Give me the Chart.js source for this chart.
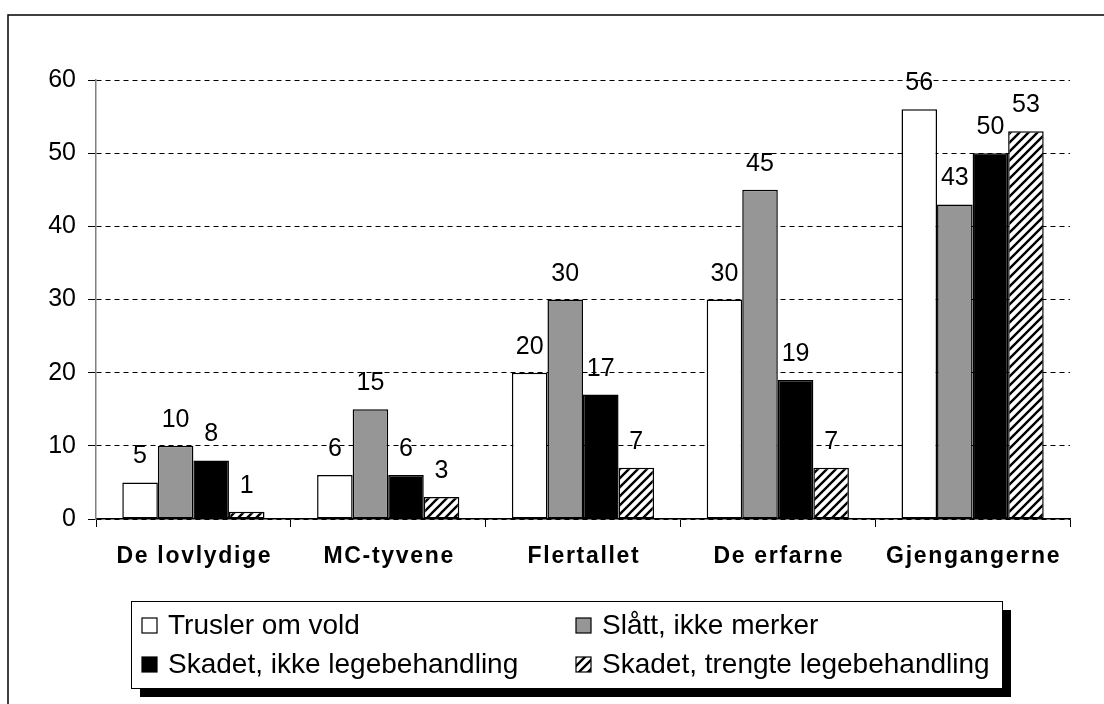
<!DOCTYPE html>
<html>
<head>
<meta charset="utf-8">
<script src="https://cdn.jsdelivr.net/npm/chart.js@4/dist/chart.umd.min.js"></script>
<style>
  html, body { margin: 0; padding: 0; background: #fff; }
  #wrap { width: 1104px; height: 704px; }
</style>
</head>
<body>
<div id="wrap"><canvas id="chart" width="1104" height="704"></canvas></div>
<script>
// Data
const categories = ['De lovlydige', 'MC-tyvene', 'Flertallet', 'De erfarne', 'Gjengangerne'];
const seriesNames = ['Trusler om vold', 'Slått, ikke merker', 'Skadet, ikke legebehandling', 'Skadet, trengte legebehandling'];
const trusler = [5, 6, 20, 30, 56];
const slatt = [10, 15, 30, 45, 43];
const skadet = [8, 6, 17, 19, 50];
const legebehandling = [1, 3, 7, 7, 53];
const yMax = 60;
const yStep = 10;

const FONT = 'Arial, "Liberation Sans", sans-serif';

// diagonal hatch for the last series
function makeHatch() {
  const c = document.createElement('canvas');
  c.width = 9; c.height = 9;
  const g = c.getContext('2d');
  g.fillStyle = '#fff';
  g.fillRect(0, 0, 9, 9);
  g.strokeStyle = '#000';
  g.lineWidth = 2.4;
  g.beginPath();
  g.moveTo(-2, 11); g.lineTo(11, -2);
  g.moveTo(-3, 3); g.lineTo(3, -3);
  g.moveTo(6, 12); g.lineTo(12, 6);
  g.stroke();
  return g.createPattern(c, 'repeat');
}
const hatch = makeHatch();

const fills = ['#ffffff', '#969696', '#000000', hatch];
const seriesData = [trusler, slatt, skadet, legebehandling];

// outer frame, value labels, category labels, legend
const decorPlugin = {
  id: 'decor',
  beforeDraw(chart) {
    const ctx = chart.ctx;
    ctx.save();
    ctx.fillStyle = '#fff';
    ctx.fillRect(0, 0, chart.width, chart.height);
    ctx.strokeStyle = '#000';
    ctx.lineWidth = 1.5;
    ctx.beginPath();
    ctx.moveTo(8, chart.height + 2);
    ctx.lineTo(8, 15);
    ctx.lineTo(chart.width + 2, 15);
    ctx.stroke();
    ctx.restore();
  },
  afterDraw(chart) {
    const ctx = chart.ctx;
    ctx.save();

    // value labels above bars
    ctx.fillStyle = '#000';
    ctx.font = '25px ' + FONT;
    ctx.textAlign = 'center';
    ctx.textBaseline = 'alphabetic';
    chart.data.datasets.forEach((ds, i) => {
      chart.getDatasetMeta(i).data.forEach((bar, j) => {
        ctx.fillText(String(ds.data[j]), bar.x, bar.y - 19);
      });
    });

    // category labels
    const xs = chart.scales.x;
    ctx.font = 'bold 23px ' + FONT;
    ctx.letterSpacing = '1.7px';
    ctx.textBaseline = 'middle';
    categories.forEach((c, i) => {
      ctx.fillText(c, xs.getPixelForValue(i) + 1, 557);
    });
    ctx.letterSpacing = '0px';

    // legend box with shadow
    const lx = 131, ly = 601, lw = 871, lh = 87;
    ctx.fillStyle = '#000';
    ctx.fillRect(lx + 9, ly + 9, lw, lh);
    ctx.fillStyle = '#fff';
    ctx.fillRect(lx, ly, lw, lh);
    ctx.strokeStyle = '#000';
    ctx.lineWidth = 1;
    ctx.strokeRect(lx + 0.5, ly + 0.5, lw, lh);

    const cols = [142, 576];
    const rows = [626, 665];
    ctx.font = '28px ' + FONT;
    ctx.textAlign = 'left';
    ctx.textBaseline = 'middle';
    chart.data.datasets.forEach((ds, i) => {
      const x = cols[i % 2], y = rows[Math.floor(i / 2)];
      ctx.fillStyle = ds.backgroundColor;
      ctx.fillRect(x, y - 8, 15, 15);
      ctx.strokeStyle = '#000';
      ctx.lineWidth = 1.2;
      ctx.strokeRect(x, y - 8, 15, 15);
      ctx.fillStyle = '#000';
      ctx.fillText(ds.label, x + 26, y);
    });

    ctx.restore();
  }
};

const chartEl = document.getElementById('chart');
new Chart(chartEl, {
  type: 'bar',
  data: {
    labels: categories,
    datasets: seriesNames.map((name, i) => ({
      label: name,
      data: seriesData[i],
      backgroundColor: fills[i],
      borderColor: '#000',
      borderWidth: 1.5,
      borderSkipped: false,
      barPercentage: 1,
      categoryPercentage: 0.73,
    })),
  },
  options: {
    responsive: false,
    animation: false,
    devicePixelRatio: 1,
    layout: { padding: { left: 8, top: 80, right: 34, bottom: 0 } },
    plugins: {
      legend: { display: false },
      tooltip: { enabled: false },
    },
    scales: {
      x: {
        afterFit: (s) => { s.height = 185; },
        ticks: { display: false },
        grid: {
          drawOnChartArea: false,
          color: '#000',
          tickLength: 8,
        },
        border: { display: true, color: '#000', width: 1.5 },
      },
      y: {
        min: 0,
        max: yMax,
        afterFit: (s) => { s.width = 88; },
        ticks: {
          stepSize: yStep,
          color: '#000',
          font: { family: FONT, size: 25 },
          padding: 12,
        },
        grid: {
          color: '#000',
          lineWidth: 1,
          tickLength: 8,
          tickColor: '#000',
          tickBorderDash: [],
        },
        border: { display: true, color: '#808080', width: 1.5, dash: [5, 4] },
      },
    },
  },
  plugins: [decorPlugin],
});
</script>
</body>
</html>
